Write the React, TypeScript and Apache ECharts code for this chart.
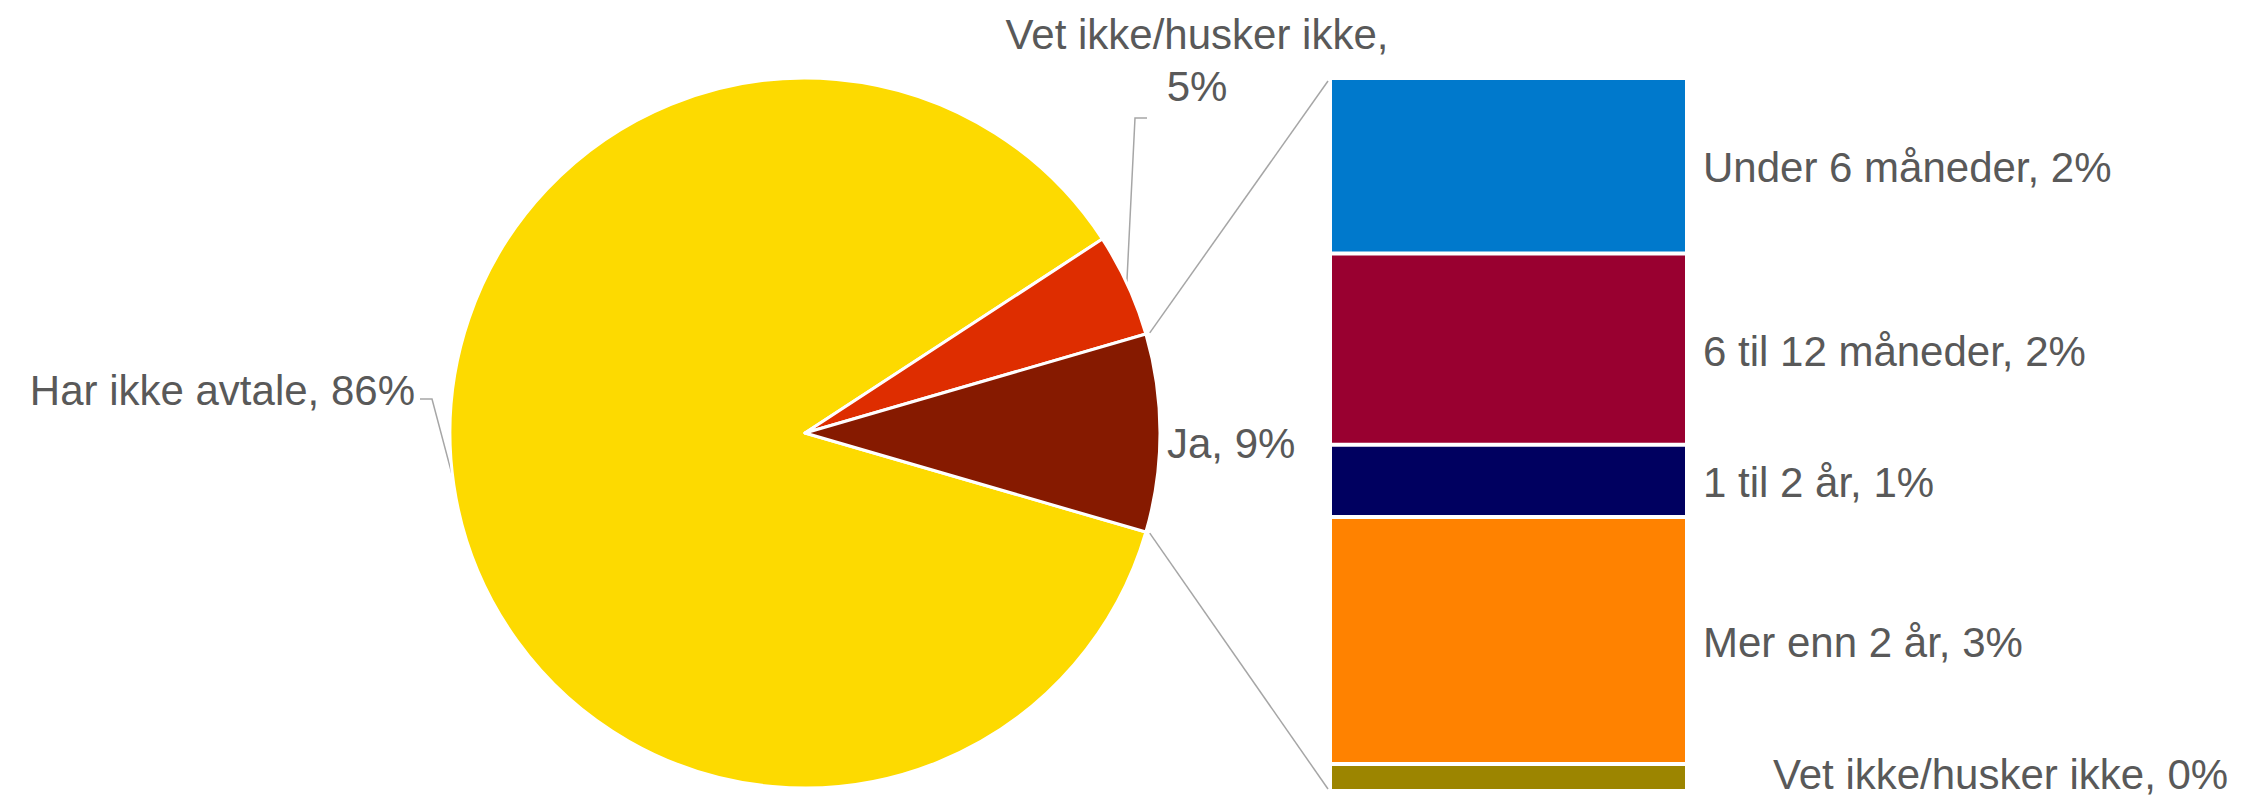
import React, { useEffect, useRef } from "react";
import * as echarts from "echarts";

const pieNames = ["Har ikke avtale", "Vet ikke/husker ikke", "Ja"];
const pieValues = [86.3, 4.7, 9.0];
const pieColors = ["#FDDA00", "#DE2D00", "#861A00"];

const barNames = ["Under 6 måneder", "6 til 12 måneder", "1 til 2 år", "Mer enn 2 år", "Vet ikke/husker ikke"];
const barValues = [2.21, 2.41, 0.91, 3.11, 0.34];
const barColors = ["#0079CC", "#990030", "#000060", "#FF8200", "#9C8500"];

const FONT = "'Liberation Sans', Arial, sans-serif";
const TEXT = "#595959";
const LINE = "#A6A6A6";

export default function App() {
  const ref = useRef<HTMLDivElement>(null);
  useEffect(() => {
    document.body.style.margin = "0";
    const chart = echarts.init(ref.current!, undefined, { renderer: "svg" });

    const cx = 805, cy = 433, R = 355;
    const total = pieValues.reduce((a, b) => a + b, 0);
    const jaIdx = 2;
    const startAngle = -(pieValues[jaIdx] / total) * 180;
    const spans: number[][] = [];
    let acc = startAngle;
    pieValues.forEach((v) => {
      const s = acc;
      const e = acc - (v / total) * 360;
      spans.push([s, e]);
      acc = e;
    });
    const pt = (deg: number, r: number) => {
      const a = (deg * Math.PI) / 180;
      return [cx + r * Math.cos(a), cy - r * Math.sin(a)];
    };
    const mid = (i: number) => (spans[i][0] + spans[i][1]) / 2;

    const gridLeft = 1330, gridTop = 78, gridW = 357, gridH = 713;
    const barTotal = barValues.reduce((a, b) => a + b, 0);

    const labelPos: any[] = [
      { x: 415, y: 390, align: "right", verticalAlign: "middle" },
      { x: 1197, y: 60, align: "center", verticalAlign: "middle" },
      { x: 1167, y: 443, align: "left", verticalAlign: "middle" },
    ];

    const p0 = pt(mid(0), 354);
    const p1 = pt(mid(1), 354);
    const up = pt(spans[jaIdx][0], R + 4);
    const lo = pt(spans[jaIdx][1], R + 4);

    chart.setOption({
      animation: false,
      backgroundColor: "#ffffff",
      textStyle: { fontFamily: FONT },
      grid: { left: gridLeft, top: gridTop, width: gridW, height: gridH },
      xAxis: { type: "category", data: [""], show: false },
      yAxis: { type: "value", min: 0, max: barTotal, inverse: true, show: false },
      series: [
        {
          type: "pie",
          center: [cx, cy],
          radius: R,
          startAngle: startAngle,
          clockwise: true,
          data: pieNames.map((n, i) => ({ name: n, value: pieValues[i], itemStyle: { color: pieColors[i] } })),
          itemStyle: { borderColor: "#ffffff", borderWidth: 3 },
          label: {
            show: true,
            color: TEXT,
            fontSize: 42,
            fontFamily: FONT,
            lineHeight: 52,
            formatter: (p: any) =>
              p.dataIndex === 1
                ? `${p.name},\n${Math.round(p.value)}%`
                : `${p.name}, ${Math.round(p.value)}%`,
          },
          labelLine: { show: false },
          labelLayout: (p: any) => labelPos[p.dataIndex],
          emphasis: { disabled: true },
        },
        ...barNames.map((n, i) => ({
          type: "bar",
          name: n,
          stack: "sub",
          barWidth: "100%",
          data: [barValues[i]],
          itemStyle: { color: barColors[i], borderColor: "#ffffff", borderWidth: 2 },
          label: {
            show: true,
            position: "right",
            distance: 16,
            color: TEXT,
            fontSize: 42,
            fontFamily: FONT,
            offset: i === barNames.length - 1 ? [70, -3] : [0, 2],
            formatter: (p: any) => `${p.seriesName}, ${Math.round(p.value)}%`,
          },
          emphasis: { disabled: true },
        })),
      ],
      graphic: [
        {
          type: "polyline",
          shape: { points: [p0, [432, 399], [420, 399]] },
          style: { stroke: LINE, lineWidth: 1.5, fill: null },
          silent: true,
        },
        {
          type: "polyline",
          shape: { points: [p1, [1135, 118], [1147, 118]] },
          style: { stroke: LINE, lineWidth: 1.5, fill: null },
          silent: true,
        },
        {
          type: "line",
          shape: { x1: up[0], y1: up[1], x2: gridLeft - 2, y2: gridTop + 3 },
          style: { stroke: LINE, lineWidth: 1.5 },
          silent: true,
        },
        {
          type: "line",
          shape: { x1: lo[0], y1: lo[1], x2: gridLeft - 2, y2: gridTop + gridH - 2 },
          style: { stroke: LINE, lineWidth: 1.5 },
          silent: true,
        },
      ],
    });
    return () => chart.dispose();
  }, []);
  return <div ref={ref} style={{ width: 2242, height: 797 }} />;
}
